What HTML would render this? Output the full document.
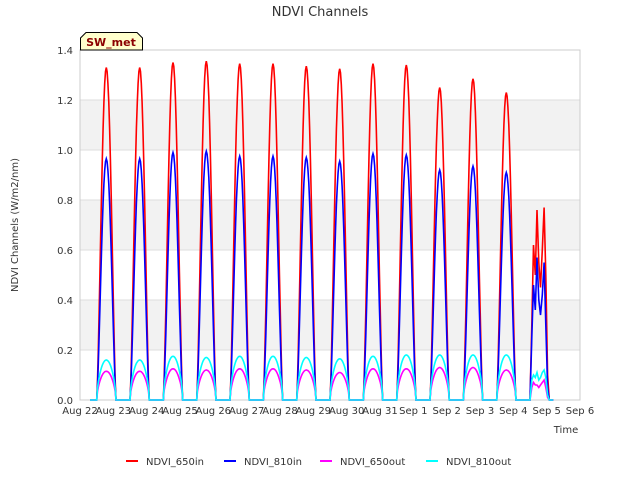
<!DOCTYPE html>
<html><head><meta charset="utf-8"><style>
body{margin:0;background:#fff;font-family:"Liberation Sans","DejaVu Sans",sans-serif}
svg text{font-family:"DejaVu Sans","Liberation Sans",sans-serif}
</style></head><body>
<svg id="c" width="640" height="480" xmlns="http://www.w3.org/2000/svg">
<rect x="0" y="0" width="640" height="480" fill="#fff"/>
<g id="bands"></g><g id="grid"></g>
<rect x="80" y="50" width="500" height="350" fill="none" stroke="#ccc"/>
<g id="series"></g><g id="axes"></g>
<text x="320" y="16" text-anchor="middle" font-size="13" fill="#333">NDVI Channels</text>
<text transform="translate(18,225) rotate(-90)" text-anchor="middle" font-size="10" fill="#333">NDVI Channels (W/m2/nm)</text>
<text x="566" y="433" text-anchor="middle" font-size="10" fill="#333">Time</text>
<g>
<path d="M80.5,50 L80.5,38 L86,32.5 L137,32.5 L142.5,38 L142.5,50 Z" fill="#ffffcc" stroke="#000"/>
<text x="111" y="46" text-anchor="middle" font-size="11" font-weight="bold" fill="#8b0000">SW_met</text>
</g>
<g id="legend"></g>
</svg>
<script>
const dayLabels=["Aug 22","Aug 23","Aug 24","Aug 25","Aug 26","Aug 27","Aug 28","Aug 29","Aug 30","Aug 31","Sep 1","Sep 2","Sep 3","Sep 4","Sep 5","Sep 6"];
const yTicks=[0,0.2,0.4,0.6,0.8,1.0,1.2,1.4];
const red650in=[1.33,1.33,1.35,1.355,1.345,1.345,1.335,1.325,1.345,1.34,1.25,1.285,1.23];
const blue810in=[0.965,0.965,0.99,0.995,0.975,0.975,0.97,0.955,0.985,0.98,0.92,0.935,0.91];
const mag650out=[0.115,0.115,0.125,0.12,0.125,0.125,0.12,0.11,0.125,0.125,0.13,0.13,0.12];
const cyan810out=[0.16,0.16,0.175,0.17,0.175,0.175,0.17,0.165,0.175,0.18,0.18,0.18,0.18];
// last partial day (Sep 4) samples
const lastRed=[0,0.3,0.62,0.5,0.76,0.55,0.45,0.6,0.77,0.5,0.1,0];
const lastBlue=[0,0.25,0.46,0.36,0.57,0.4,0.34,0.42,0.55,0.3,0.05,0];
const lastMag=[0,0.05,0.07,0.06,0.06,0.05,0.06,0.07,0.08,0.05,0.01,0];
const lastCyan=[0,0.08,0.1,0.09,0.11,0.08,0.09,0.11,0.12,0.09,0.02,0];
const NS="http://www.w3.org/2000/svg";
const X0=80,PX=500/15,Y0=400,PY=350/1.4;
const xs=d=>X0+d*PX, ys=v=>Y0-v*PY;
function mk(t,a,p){const e=document.createElementNS(NS,t);for(const k in a)e.setAttribute(k,a[k]);p.appendChild(e);return e;}
const bands=document.getElementById('bands'),grid=document.getElementById('grid'),axes=document.getElementById('axes');
[[0.2,0.4],[0.6,0.8],[1.0,1.2]].forEach(b=>{const r=mk('rect',{x:80,y:ys(b[1]),width:500,height:ys(b[0])-ys(b[1]),fill:'#f2f2f2'},bands);

});
yTicks.forEach(v=>{mk('line',{x1:80,x2:580,y1:ys(v),y2:ys(v),stroke:'#ddd'},grid);
const t=mk('text',{x:73,y:ys(v)+4,'text-anchor':'end','font-size':10,fill:'#333'},axes);t.textContent=v.toFixed(1);

});
dayLabels.forEach((l,i)=>{const t=mk('text',{x:xs(i),y:414,'text-anchor':'middle','font-size':10,fill:'#333'},axes);t.textContent=l;

});
const S=document.getElementById('series');
function path(peaks,last,pw,color,name){
 let pts=[[xs(0.3),ys(0)]];
 peaks.forEach((p,d)=>{
  const a=d+0.5,b=d+1.08;
  pts.push([xs(a),ys(0)]);
  for(let k=1;k<24;k++){const f=k/24;pts.push([xs(a+f*(b-a)),ys(p*Math.pow(Math.sin(Math.PI*f),pw))]);}
  pts.push([xs(b),ys(0)]);
 });
 const a=13.5,b=14.08;
 last.forEach((v,k)=>pts.push([xs(a+k/(last.length-1)*(b-a)),ys(v)]));
 pts.push([xs(14.2),ys(0)]);
 const p=mk('path',{d:'M'+pts.map(q=>q[0].toFixed(1)+','+q[1].toFixed(1)).join('L'),fill:'none',stroke:color,'stroke-width':1.6},S);
 
 
}
path(red650in,lastRed,1.4,'#ff0000','series-ndvi-650in');
path(blue810in,lastBlue,1.4,'#0000ff','series-ndvi-810in');
path(mag650out,lastMag,0.6,'#ff00ff','series-ndvi-650out');
path(cyan810out,lastCyan,0.6,'#00ffff','series-ndvi-810out');
const L=document.getElementById('legend');
[["NDVI_650in","#ff0000",126],["NDVI_810in","#0000ff",224],["NDVI_650out","#ff00ff",320],["NDVI_810out","#00ffff",426]].forEach(e=>{
 const g=mk('g',{},L);
 
 
 mk('line',{x1:e[2],x2:e[2]+12,y1:461,y2:461,stroke:e[1],'stroke-width':2},g);
 const t=mk('text',{x:e[2]+20,y:465,'font-size':10,fill:'#333'},g);t.textContent=e[0];
});
</script>
</body></html>
